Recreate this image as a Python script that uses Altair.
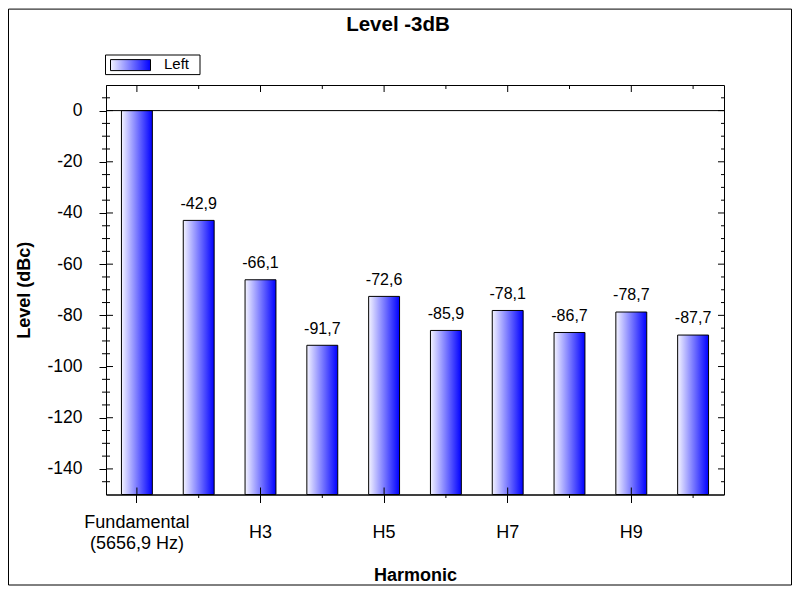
import json
import altair as alt
import pandas as pd

# ---------------- data ----------------
harmonics = ["Fundamental", "H2", "H3", "H4", "H5", "H6", "H7", "H8", "H9", "H10"]
levels = [0.0, -42.9, -66.1, -91.7, -72.6, -85.9, -78.1, -86.7, -78.7, -87.7]
fundamental_label = ["Fundamental", "(5656,9 Hz)"]
labelled = ["Fundamental", "H3", "H5", "H7", "H9"]
unlabelled = ["H2", "H4", "H6", "H8", "H10"]
series = ["Left"]
title_text = ["Level -3dB"]
x_title = "Harmonic"
y_title = "Level (dBc)"
y_min, y_max = -150, 10
y_major = [-140, -120, -100, -80, -60, -40, -20, 0]
y_minor = [-145, -135, -130, -125, -115, -110, -105, -95, -90, -85, -75, -70,
           -65, -55, -50, -45, -35, -30, -25, -15, -10, -5, 5]

# ---------------- layout ----------------
W, H = 618, 409.5
FONT = "Liberation Sans"
LINE_H = 21

df = pd.DataFrame({"harmonic": harmonics, "level": levels})
xscale = alt.Scale(domain=harmonics, paddingInner=0.5, paddingOuter=0.25)
yscale = alt.Scale(domain=[y_min, y_max], nice=False, zero=False)

grad = alt.Gradient(
    gradient="linear",
    stops=[alt.GradientStop(color="#f4f4ff", offset=0),
           alt.GradientStop(color="#0000ff", offset=1)],
    x1=0, x2=1, y1=0, y2=0,
)

is_fund = f"datum.value == {json.dumps(harmonics[0])}"
label_expr_x = f"{is_fund} ? {json.dumps(fundamental_label)} : datum.value"

x_axis = alt.Axis(values=labelled, title=x_title, labelExpr=label_expr_x,
                  tickSize=8,
                  labelPadding={"condition": {"test": is_fund,
                                              "value": 30 - LINE_H / 2},
                                "value": 30},
                  labelBaseline="middle",
                  labelLineHeight=LINE_H, labelAngle=0, labelFontSize=18,
                  titleX=W / 2, titleY=86, titleBaseline="alphabetic")
y_axis = alt.Axis(values=y_major, title=y_title,
                  labelExpr="toString(datum.value)", tickSize=7,
                  labelPadding=17, labelFontSize=17.5,
                  titleX=-77, titleY=H / 2, titleBaseline="alphabetic")

bars = alt.Chart(df).mark_bar(fill=grad, stroke="black", strokeWidth=1).encode(
    x=alt.X("harmonic:N", scale=xscale, axis=x_axis),
    y=alt.Y("level:Q", scale=yscale, axis=y_axis),
    y2=alt.datum(y_min),
)

zero_line = alt.Chart(pd.DataFrame({"level": [0]})).mark_rule(color="black").encode(
    y=alt.Y("level:Q", scale=yscale, axis=y_axis)
)


def yrule(vals, x1, x2):
    return alt.Chart(pd.DataFrame({"level": vals})).mark_rule(color="black", strokeWidth=1).encode(
        y=alt.Y("level:Q", scale=yscale, axis=y_axis), x=alt.value(x1), x2=alt.value(x2)
    )


def xrule(cats, y1, y2):
    return alt.Chart(pd.DataFrame({"harmonic": cats})).mark_rule(color="black", strokeWidth=1).encode(
        x=alt.X("harmonic:N", scale=xscale, axis=x_axis), y=alt.value(y1), y2=alt.value(y2)
    )


ticks = [
    yrule(y_major, 0, 7),
    yrule(y_minor, -4, 4),
    yrule(y_major, W - 6, W),
    yrule(y_minor, W - 3, W),
    xrule(labelled, 0, 7),
    xrule(unlabelled, 0, 4),
    xrule(labelled, H - 7, H),
    xrule(unlabelled, H, H + 3.5),
]

value_labels = alt.Chart(df).transform_filter(
    alt.datum.harmonic != harmonics[0]
).transform_calculate(
    label="replace(toString(datum.level), '.', ',')"
).mark_text(dy=-11.6, baseline="alphabetic", fontSize=16, font=FONT, color="black").encode(
    x=alt.X("harmonic:N", scale=xscale, axis=x_axis),
    y=alt.Y("level:Q", scale=yscale, axis=y_axis),
    text="label:N",
)

leg_df = pd.DataFrame({"series": series})
legend_box = alt.Chart(leg_df).mark_rect(fill="white", stroke="black", strokeWidth=1).encode(
    x=alt.value(-0.5), x2=alt.value(94), y=alt.value(-30), y2=alt.value(-10.4)
)
legend_swatch = alt.Chart(leg_df).mark_rect(fill=grad, stroke="black", strokeWidth=1).encode(
    x=alt.value(4.5), x2=alt.value(44.5), y=alt.value(-25.4), y2=alt.value(-14.4)
)
legend_text = alt.Chart(leg_df).mark_text(align="left", baseline="alphabetic", fontSize=15,
                                          font=FONT, color="black").encode(
    x=alt.value(58), y=alt.value(-16.1), text="series:N"
)

title_df = pd.DataFrame({"t": title_text})
title = alt.Chart(title_df).mark_text(align="center", baseline="alphabetic", fontSize=20.5,
                                      fontWeight="bold", font=FONT, color="black").encode(
    x=alt.value(W / 2 - 17), y=alt.value(-54.1), text="t:N"
)

frame = alt.Chart(title_df).mark_rect(fillOpacity=0, stroke="black", strokeWidth=1).encode(
    x=alt.value(-97.5), x2=alt.value(685.5), y=alt.value(-75.9), y2=alt.value(500)
)

chart = alt.layer(
    frame, bars, zero_line, *ticks, value_labels, legend_box, legend_swatch, legend_text, title
).properties(
    width=W, height=H, padding=0, background="white"
).configure_view(
    stroke="black", strokeWidth=1
).configure_axis(
    labelFont=FONT, titleFont=FONT, labelColor="black", titleColor="black",
    domainColor="black", tickColor="black", tickWidth=1, domainWidth=1,
    titleFontSize=18, titleFontWeight="bold", grid=False,
)

chart.save("out.html", embed_options={"renderer": "svg", "actions": False})
